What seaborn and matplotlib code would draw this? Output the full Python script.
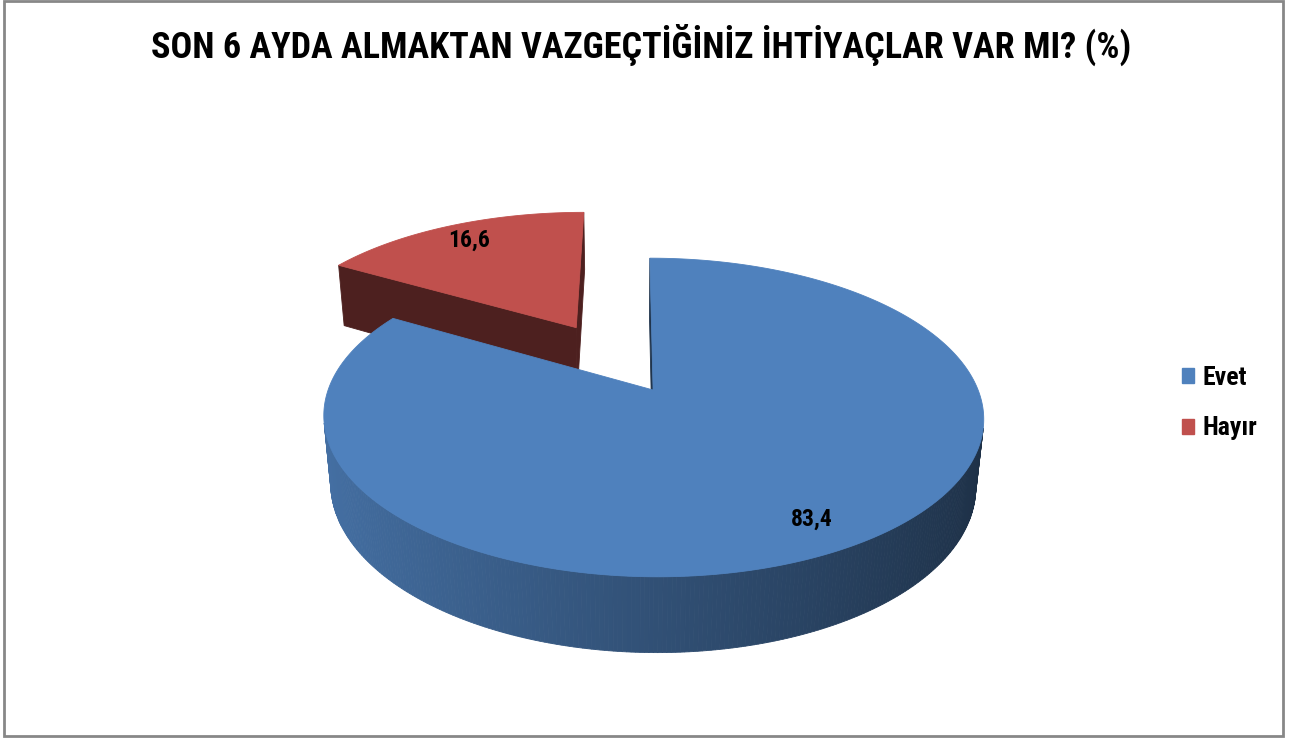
import numpy as np
import seaborn as sns
import matplotlib
matplotlib.use("Agg")
import matplotlib.pyplot as plt
from matplotlib.patches import Polygon, Patch, Rectangle

# --- data ---
categories = ["Evet", "Hayır"]
values = [83.4, 16.6]
value_labels = ["83,4", "16,6"]
explode = [0.0, 0.5]
title = "SON 6 AYDA ALMAKTAN VAZGEÇTİĞİNİZ İHTİYAÇLAR VAR MI? (%)"

sns.set_theme(style="white")
plt.rcParams['font.family'] = ['Roboto Condensed', 'Lato', 'DejaVu Sans']
plt.rcParams['text.color'] = 'black'
colors = sns.color_palette(["#4F81BD", "#C0504D"])

# --- simple 3D pie projection (pixel space) ---
ELEV = np.radians(28.4)
DIST = 5.1
SCALE = 325
PX, PY = 631, 390
XC = -0.068
THICK = 0.24


def project(x, y, z):
    depth = y * np.cos(ELEV) - z * np.sin(ELEV)
    f = DIST / (DIST + depth)
    X = PX + SCALE * (x - XC) * f
    up = (y * np.sin(ELEV) + z * np.cos(ELEV)) * f * SCALE
    return np.column_stack([np.atleast_1d(X), PY - np.atleast_1d(up)])


def shade(c, k):
    return tuple(min(1, v * k) for v in c)


def front(poly):
    x, y = poly[:, 0], poly[:, 1]
    area = 0.5 * np.sum(x * np.roll(y, -1) - np.roll(x, -1) * y)
    return area < 0  # pixel y points down


fig = plt.figure(figsize=(13.01, 7.40), dpi=100)
ax = fig.add_axes([0, 0, 1, 1])
ax.set_xlim(0, 1301)
ax.set_ylim(740, 0)
ax.axis('off')

# slice angles: start at 12 o'clock, clockwise
total = sum(values)
slices = []
start = 90.0
for i, v in enumerate(values):
    span = 360.0 * v / total
    t0, t1 = start - span, start
    start = t0
    mid = np.radians((t0 + t1) / 2)
    ox, oy = explode[i] * np.cos(mid), explode[i] * np.sin(mid)
    slices.append((i, t0, t1, mid, ox, oy))

# farther slices first
slices.sort(key=lambda s: -s[5])

for i, t0, t1, mid, ox, oy in slices:
    col = colors[i]
    n = max(3, int((t1 - t0) * 1.5))
    th = np.radians(np.linspace(t0, t1, n))
    rim_top = project(ox + np.cos(th), oy + np.sin(th), 0)
    rim_bot = project(ox + np.cos(th), oy + np.sin(th), -THICK)
    apex_top = project(ox, oy, 0)[0]
    apex_bot = project(ox, oy, -THICK)[0]

    faces = []
    faces.append((np.array([apex_top, apex_bot, rim_bot[0], rim_top[0]]), shade(col, 0.4)))
    faces.append((np.array([rim_top[-1], rim_bot[-1], apex_bot, apex_top]), shade(col, 0.4)))
    for k in range(n - 1):
        poly = np.array([rim_top[k], rim_bot[k], rim_bot[k + 1], rim_top[k + 1]])
        tm = (th[k] + th[k + 1]) / 2
        faces.append((poly, shade(col, 0.62 - 0.25 * np.cos(tm))))

    for poly, fc in faces:
        if front(poly):
            ax.add_patch(Polygon(poly, closed=True, facecolor=fc, edgecolor=fc, lw=0.6))

    top = np.vstack([apex_top, rim_top])
    ax.add_patch(Polygon(top, closed=True, facecolor=col, edgecolor=col, lw=0.6))

    lx, ly = project(ox + 0.84 * np.cos(mid), oy + 0.84 * np.sin(mid), 0)[0]
    ax.text(lx, ly, value_labels[i], ha='center', va='center',
            fontsize=17, fontweight='bold', color='black')

# title
fig.text(641 / 1301, 1 - 45 / 740, title, ha='center', va='center',
         fontsize=26, fontweight='bold', color='black')

# legend
handles = [Patch(facecolor=colors[i], edgecolor=colors[i], label=categories[i])
           for i in range(len(categories))]
leg = ax.legend(handles=handles, loc='center left',
                bbox_to_anchor=(1159 / 1301, 1 - 403 / 740),
                frameon=False, handlelength=0.48, handleheight=0.48,
                handletextpad=0.3, labelspacing=1.05,
                prop={'weight': 'bold', 'size': 18.5})
for t in leg.get_texts():
    t.set_color('black')

# chart border
ax.add_patch(Rectangle((4, 1), 1279, 735, fill=False, edgecolor='#878787',
                       lw=2, clip_on=False))

plt.savefig("out.png", dpi=100)
